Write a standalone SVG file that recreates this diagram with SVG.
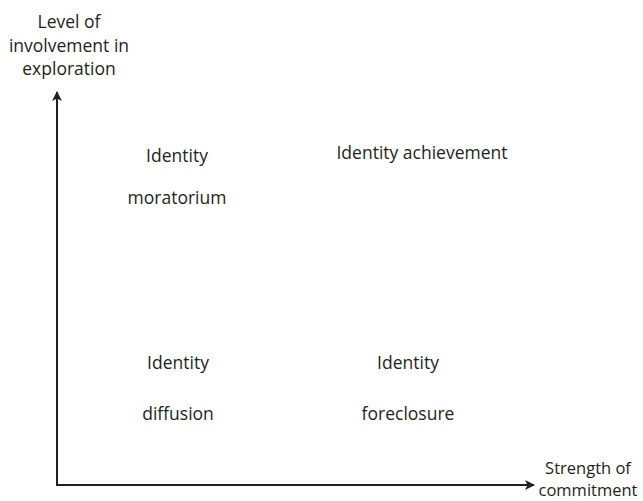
<svg xmlns="http://www.w3.org/2000/svg" width="643" height="501" viewBox="0 0 643 501">
  <style>
    text { font-family: "Open Sans", "Liberation Sans", sans-serif; font-size: 17.5px; fill: #231f20; text-anchor: middle; }
    .small { font-size: 16.5px; }
    .axis { stroke: #231f20; stroke-width: 2; fill: none; }
  </style>
  <defs>
    <marker id="arrow" viewBox="0 0 10 10" refX="9" refY="5" markerWidth="10" markerHeight="10" markerUnits="userSpaceOnUse" orient="auto">
      <path d="M0,0 L10,5 L0,10 L2.5,5 Z" fill="#231f20"/>
    </marker>
  </defs>
  <rect width="643" height="501" fill="#ffffff"/>

  <!-- axes -->
  <g id="connectors">
    <path class="axis" d="M57,485 L57,92" marker-end="url(#arrow)"/>
    <path class="axis" d="M56,485 L534,485" marker-end="url(#arrow)"/>
  </g>

  <!-- axis titles -->
  <g id="y-axis-label">
    <text x="69" y="28">Level of</text>
    <text x="69" y="52">involvement in</text>
    <text x="69" y="75">exploration</text>
  </g>
  <g id="x-axis-label">
    <text class="small" x="588" y="474">Strength of</text>
    <text class="small" x="588" y="496">commitment</text>
  </g>

  <!-- quadrants -->
  <g id="moratorium">
    <text x="177" y="162">Identity</text>
    <text x="177" y="204">moratorium</text>
  </g>
  <g id="achievement">
    <text x="422" y="159">Identity achievement</text>
  </g>
  <g id="diffusion">
    <text x="178" y="369">Identity</text>
    <text x="178" y="420">diffusion</text>
  </g>
  <g id="foreclosure">
    <text x="408" y="369">Identity</text>
    <text x="408" y="420">foreclosure</text>
  </g>
</svg>
